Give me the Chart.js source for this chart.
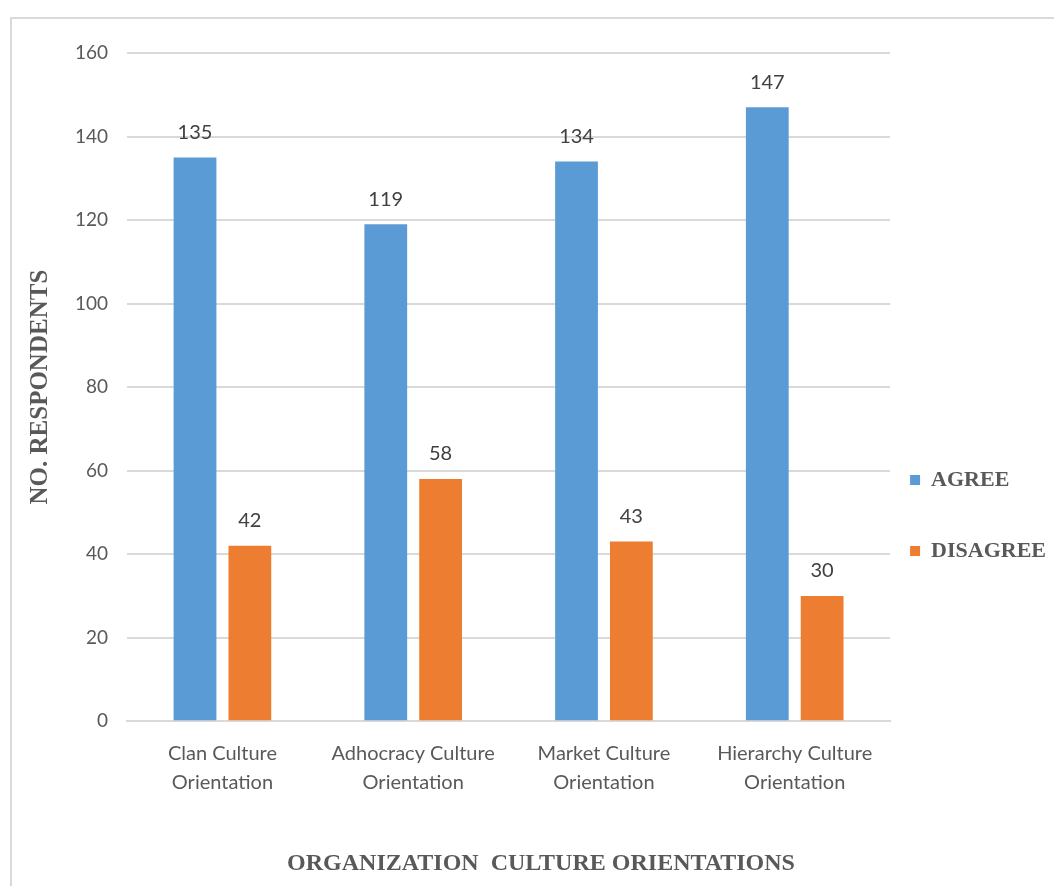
<!DOCTYPE html>
<html>
<head>
<meta charset="utf-8">
<script src="https://cdn.jsdelivr.net/npm/chart.js@4"></script>
<style>
  html, body { margin: 0; padding: 0; background: #fff; overflow: hidden; }
  #frame { position: absolute; left: 10px; top: 17px; width: 1100px; height: 900px; border: 2px solid #d9d9d9; background: #fff; }
  #wrap { position: absolute; left: 0; top: 0; width: 1044px; height: 867px; }
</style>
</head>
<body>
<div id="frame"><div id="wrap"><canvas id="chart"></canvas></div></div>
<script>
const TEXT = "#595959";
const GRID = "#d9d9d9";

const categories = [
  ["Clan Culture", "Orientation"],
  ["Adhocracy Culture", "Orientation"],
  ["Market Culture", "Orientation"],
  ["Hierarchy Culture", "Orientation"],
];
const agree    = [135, 119, 134, 147];
const disagree = [42, 58, 43, 30];

// value on top of each bar
const barValues = {
  id: "barValues",
  afterDatasetsDraw(chart) {
    const ctx = chart.ctx;
    ctx.save();
    ctx.font = "20px Lato";
    ctx.fillStyle = "#404040";
    ctx.textAlign = "center";
    ctx.textBaseline = "middle";
    chart.data.datasets.forEach((ds, i) => {
      chart.getDatasetMeta(i).data.forEach((bar, j) => {
        ctx.fillText(ds.data[j], bar.x, bar.y - 25);
      });
    });
    ctx.restore();
  },
};

new Chart(document.getElementById("chart"), {
  type: "bar",
  data: {
    labels: categories,
    datasets: [
      { label: "AGREE", data: agree, backgroundColor: "#5b9bd5", categoryPercentage: 0.575, barPercentage: 0.78 },
      { label: "DISAGREE", data: disagree, backgroundColor: "#ed7d31", categoryPercentage: 0.575, barPercentage: 0.78 },
    ],
  },
  options: {
    responsive: true,
    maintainAspectRatio: false,
    animation: false,
    layout: { padding: { top: 34, right: 0, left: 14, bottom: 8 } },
    plugins: {
      tooltip: { enabled: false },
      legend: {
        position: "right",
        // empty title only pushes the items down
        title: { display: true, text: "", font: { size: 12, lineHeight: 1 }, padding: { top: 117, bottom: 0 } },
        labels: {
          color: TEXT,
          font: { family: "Liberation Serif", size: 22, weight: "bold", lineHeight: "51px" },
          boxWidth: 10, boxHeight: 10, padding: 20,
          generateLabels(chart) {
            return Chart.defaults.plugins.legend.labels.generateLabels(chart)
              .map(item => ({ ...item, text: [item.text] }));
          },
        },
      },
      title: {
        display: true,
        position: "bottom",
        text: "ORGANIZATION  CULTURE ORIENTATIONS",
        color: TEXT,
        font: { family: "Liberation Serif", size: 24, weight: "bold" },
        padding: { top: 42, bottom: 0 },
      },
    },
    scales: {
      x: {
        grid: { display: false },
        border: { color: GRID, width: 2 },
        ticks: { color: TEXT, font: { family: "Lato", size: 20, lineHeight: 1.45 }, padding: 10, maxRotation: 0, autoSkip: false },
      },
      y: {
        min: 0, max: 160,
        grid: { color: GRID, lineWidth: 2, drawTicks: false },
        border: { display: false },
        ticks: { color: TEXT, font: { family: "Lato", size: 19 }, stepSize: 20, padding: 19 },
        title: {
          display: true,
          text: "NO. RESPONDENTS",
          color: TEXT,
          font: { family: "Liberation Serif", size: 25, weight: "bold" },
          padding: { top: 0, bottom: 0 },
        },
      },
    },
  },
  plugins: [barValues],
});
</script>
</body>
</html>
